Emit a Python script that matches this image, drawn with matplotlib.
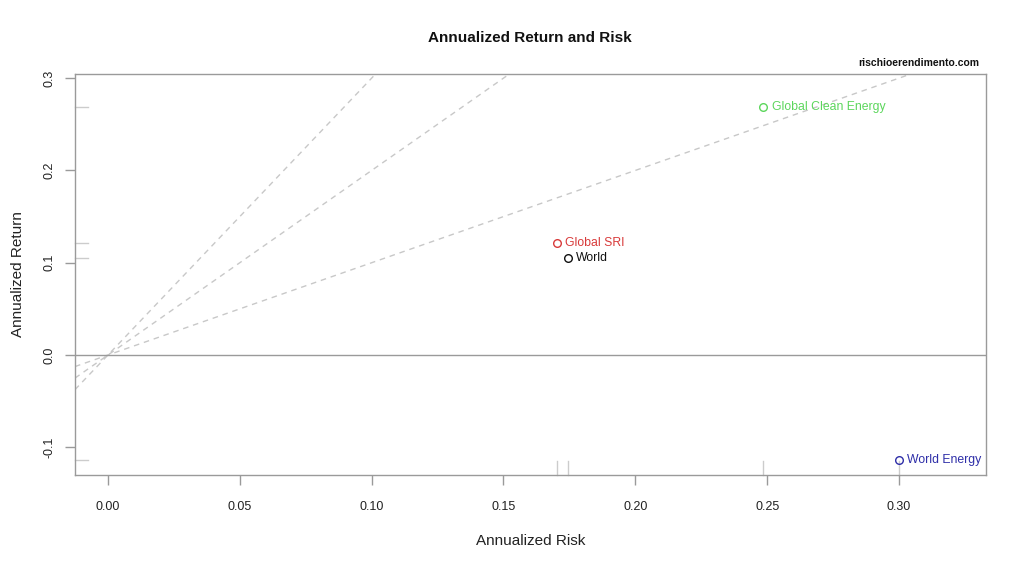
import matplotlib
matplotlib.use('Agg')
import matplotlib.pyplot as plt

plt.rcParams['font.family'] = ['Liberation Sans', 'DejaVu Sans']

# dati
names = ['Global Clean Energy', 'Global SRI', 'World', 'World Energy']
risk = [0.2485, 0.1703, 0.1745, 0.3000]
ret = [0.2687, 0.1213, 0.1050, -0.1138]
colors = ['#5cd65c', '#d83a3a', '#111111', '#2e2ea8']
sharpe_slopes = [1, 2, 3]
rf = 0.0

xticks = [0.00, 0.05, 0.10, 0.15, 0.20, 0.25, 0.30]
yticks = [-0.1, 0.0, 0.1, 0.2, 0.3]

fig = plt.figure(figsize=(10.24, 5.68), dpi=100)
ax = fig.add_axes([75 / 1024, 1 - 475 / 568, 911 / 1024, 401 / 568])

xlim = (-0.0125, 0.3330)
ylim = (-0.1300, 0.3045)
ax.set_xlim(*xlim)
ax.set_ylim(*ylim)

# linee di Sharpe
for s in sharpe_slopes:
    ax.plot(xlim, [rf + s * xlim[0], rf + s * xlim[1]], color='#c8c8c8',
            linestyle=(0, (4, 3.5)), linewidth=1.0, zorder=1)

ax.axhline(0, color='#9a9a9a', linewidth=1.0, zorder=1)

# rug
for x in risk:
    ax.plot([x, x], [ylim[0], ylim[0] + 0.015], color='#cccccc', linewidth=1.0,
            zorder=1, clip_on=False)
for y in ret:
    ax.plot([xlim[0], xlim[0] + 0.005], [y, y], color='#cccccc', linewidth=1.0,
            zorder=1, clip_on=False)

for n, x, y, c in zip(names, risk, ret, colors):
    ax.plot(x, y, marker='o', markersize=5.5, markerfacecolor='none',
            markeredgecolor=c, markeredgewidth=1.0, linestyle='none', zorder=3)
    ax.annotate(n, (x, y), xytext=(6, 0), textcoords='offset points',
                color=c, fontsize=8.8, va='center', ha='left')

for sp in ax.spines.values():
    sp.set_color('#9a9a9a')
    sp.set_linewidth(1.0)

ax.set_xticks(xticks)
ax.set_xticklabels(['%.2f' % t for t in xticks])
ax.set_yticks(yticks)
ax.set_yticklabels(['%.1f' % t for t in yticks], rotation=90, va='center')
ax.tick_params(axis='both', colors='#9a9a9a', labelcolor='#222222',
               labelsize=9, length=7, width=1.0)
ax.tick_params(axis='x', pad=12)
ax.tick_params(axis='y', pad=7)

ax.set_xlabel('Annualized Risk', fontsize=11, color='#222222', labelpad=15)
ax.set_ylabel('Annualized Return', fontsize=11, color='#222222', labelpad=13)

fig.text(530 / 1024, 1 - 38 / 568, 'Annualized Return and Risk', ha='center',
         va='center', fontsize=11, fontweight='bold', color='#111111')
fig.text(979 / 1024, 1 - 63 / 568, 'rischioerendimento.com', ha='right',
         va='center', fontsize=7.5, fontweight='bold', color='#111111')

plt.savefig('out.png', dpi=100)
plt.close()
